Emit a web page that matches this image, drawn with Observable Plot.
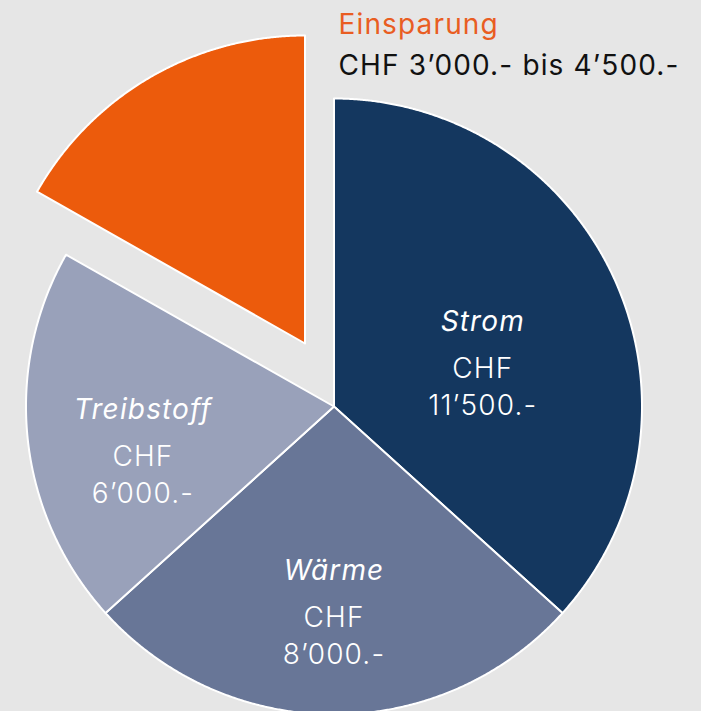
<!DOCTYPE html>
<html><head><meta charset="utf-8">
<script src="https://cdn.jsdelivr.net/npm/d3@7"></script>
<script src="https://cdn.jsdelivr.net/npm/@observablehq/plot@0.6"></script>
<style>
html,body{margin:0;padding:0;background:#e6e6e6;overflow:hidden}
svg{display:block}
svg text{letter-spacing:1.15px}
</style></head><body><div id="chart"></div>
<script>
// Data
const categories = ["Strom", "Wärme", "Treibstoff", "Einsparung"];
const shares = [36.7, 26.6, 19.9, 16.8];            // share of the circle, %
const amountLabels = ["11’500.-", "8’000.-", "6’000.-", "3’000.- bis 4’500.-"];
const currency = "CHF";
const colors = ["#14375f", "#687697", "#99a1ba", "#ec5b0c"];

const R = 308;
const total = d3.sum(shares);
let acc = 0;
const slices = categories.map((name, i) => {
  const a0 = acc / total * 2 * Math.PI;
  acc += shares[i];
  const a1 = acc / total * 2 * Math.PI;
  return {name, a0, a1, i, amount: amountLabels[i]};
});
const pts = [];
for (const s of slices) {
  pts.push({name: s.name, x: 0, y: 0});
  const n = Math.ceil((s.a1 - s.a0) / (Math.PI / 720));
  for (let k = 0; k <= n; k++) {
    const a = s.a0 + (s.a1 - s.a0) * k / n;
    pts.push({name: s.name, x: R * Math.sin(a), y: R * Math.cos(a)});
  }
  pts.push({name: s.name, x: 0, y: 0});
}
const main = pts.filter(d => d.name !== "Einsparung");
const saving = pts.filter(d => d.name === "Einsparung");

// label anchors at the sector centroid
const labels = slices.filter(s => s.name !== "Einsparung").map(s => {
  const mid = (s.a0 + s.a1) / 2, half = (s.a1 - s.a0) / 2;
  const dist = 2 * R * Math.sin(half) / (3 * half);
  return {name: s.name, amount: s.amount, x: dist * Math.sin(mid), y: dist * Math.cos(mid)};
});
const savingSlice = slices.find(s => s.name === "Einsparung");

const font = "Inter, 'Noto Sans', sans-serif";
const fs = 28;

const chart = Plot.plot({
  width: 701,
  height: 711,
  margin: 0,
  x: {domain: [-333.5, 367.5], axis: null},
  y: {domain: [-305, 406], axis: null},
  color: {domain: categories, range: colors},
  style: {background: "transparent", fontFamily: font, overflow: "visible"},
  marks: [
    Plot.line(main, {x: "x", y: "y", z: "name", fill: "name", stroke: "white", strokeWidth: 2, curve: "linear"}),
    Plot.line(saving, {x: "x", y: "y", z: "name", fill: "name", stroke: "white", strokeWidth: 2, curve: "linear", dx: -29, dy: -63}),
    Plot.text(labels, {x: "x", y: "y", text: "name", dy: -9, lineAnchor: "bottom", fill: "white", fontSize: fs, fontStyle: "italic", fontFamily: font}),
    Plot.text(labels, {x: "x", y: "y", text: () => currency, dy: 38, lineAnchor: "bottom", fill: "white", fontSize: fs, fontWeight: 300, fontFamily: font}),
    Plot.text(labels, {x: "x", y: "y", text: "amount", dy: 75, lineAnchor: "bottom", fill: "white", fontSize: fs, fontWeight: 300, fontFamily: font}),
    Plot.text([savingSlice], {frameAnchor: "top-left", text: "name", dx: 338, dy: 33, textAnchor: "start", lineAnchor: "bottom", fill: "#e95d22", fontSize: fs, fontFamily: font}),
    Plot.text([savingSlice], {frameAnchor: "top-left", text: d => currency + " " + d.amount, dx: 338, dy: 74, textAnchor: "start", lineAnchor: "bottom", fill: "#111", fontSize: fs, fontFamily: font})
  ]
});
document.getElementById("chart").append(chart);
</script></body></html>
